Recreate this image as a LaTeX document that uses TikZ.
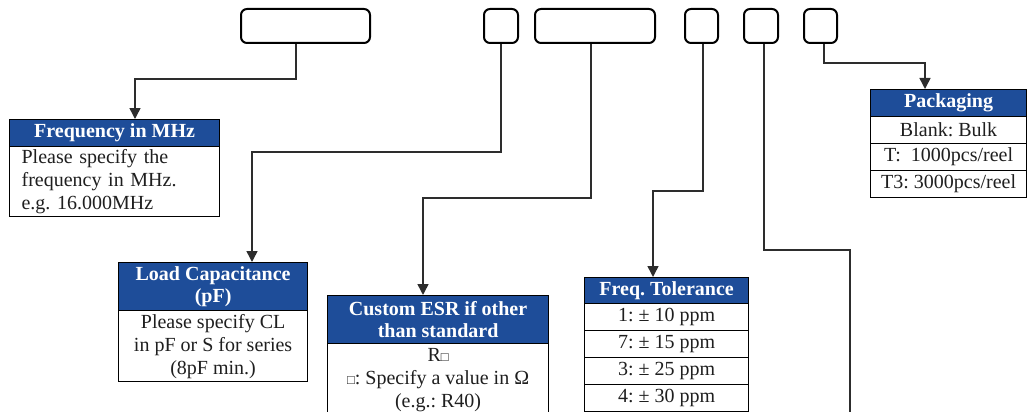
\documentclass[tikz,border=0pt]{standalone}
\usepackage{fontspec}
\setmainfont{Liberation Serif}
\usetikzlibrary{arrows.meta}
\definecolor{hblue}{RGB}{30,77,153}
\definecolor{lineg}{RGB}{45,45,45}
\newcommand{\smsq}{{\fontsize{13}{23}\selectfont □}}
\frenchspacing
\begin{document}
\begin{tikzpicture}[x=1pt,y=-1pt, font=\fontsize{20}{23}\selectfont,
  topbox/.style={draw=black, line width=2pt, rounded corners=6pt, minimum height=34pt, anchor=north west, inner sep=0pt},
  hdr/.style={draw=black, line width=1.2pt, fill=hblue, text=white, font=\fontsize{20}{22}\selectfont\bfseries, anchor=north west, inner sep=0pt, align=center},
  cell/.style={draw=black, line width=1.2pt, fill=white, text=black!88, anchor=north west, inner sep=0pt, align=center},
  conn/.style={draw=lineg, line width=1.5pt},
  arr/.style={-{Triangle[length=11pt,width=11pt]}}
]
\useasboundingbox (0,0) rectangle (1028,412);
\clip (0,0) rectangle (1028,412);

% top code boxes
\node[topbox, minimum width=129] (t1) at (240,8) {};
\node[topbox, minimum width=34] (t2) at (483,8) {};
\node[topbox, minimum width=120] (t3) at (534,8) {};
\node[topbox, minimum width=33] (t4) at (684,8) {};
\node[topbox, minimum width=34] (t5) at (743,8) {};
\node[topbox, minimum width=33] (t6) at (803,8) {};

% Frequency
\node[hdr, minimum width=210, minimum height=27] (fh) at (9,119) {Frequency in MHz};
\node[cell, minimum width=210, minimum height=70, text width=186, align=left] (fb) at (9,146) {Please specify the\\frequency in MHz.\\e.g. 16.000MHz};

% Load capacitance
\node[hdr, minimum width=189, minimum height=48] (lh) at (118,262) {Load Capacitance\\(pF)};
\node[cell, minimum width=189, minimum height=71] (lb) at (118,310) {Please specify CL\\in pF or S for series\\(8pF min.)};

% Custom ESR
\node[hdr, minimum width=221, minimum height=48] (eh) at (327,295) {Custom ESR if other\\than standard};
\node[cell, minimum width=221, minimum height=74] (eb) at (327,343) {R\smsq\\\smsq: Specify a value in Ω\\(e.g.: R40)};

% Freq tolerance
\node[hdr, minimum width=164, minimum height=26] (th) at (584,277) {Freq. Tolerance};
\node[cell, minimum width=164, minimum height=27] (tr1) at (584,303) {1: ± 10 ppm};
\node[cell, minimum width=164, minimum height=27] (tr2) at (584,330) {7: ± 15 ppm};
\node[cell, minimum width=164, minimum height=27] (tr3) at (584,357) {3: ± 25 ppm};
\node[cell, minimum width=164, minimum height=27] (tr4) at (584,384) {4: ± 30 ppm};

% Packaging
\node[hdr, minimum width=156, minimum height=27] (ph) at (870,89) {Packaging};
\node[cell, minimum width=156, minimum height=27] (pr1) at (870,116) {Blank: Bulk};
\node[cell, minimum width=156, minimum height=27] (pr2) at (870,143) {T:\ \ 1000pcs/reel};
\node[cell, minimum width=156, minimum height=27] (pr3) at (870,170) {T3: 3000pcs/reel};

% connectors
\coordinate (k1) at (135,79);
\coordinate (k2) at (252,152);
\coordinate (k3) at (423,198);
\coordinate (k4) at (653,191);
\coordinate (k5) at (850,250);
\coordinate (e5) at (850,425);
\coordinate (k6) at (925,63);
\draw[conn,arr] ([xshift=-9.5pt]t1.south) |- (k1) -- (k1 |- fh.north);
\draw[conn,arr] (t2.south) |- (k2) -- (k2 |- lh.north);
\draw[conn,arr] ([xshift=-4pt]t3.south) |- (k3) -- (k3 |- eh.north);
\draw[conn,arr] ([xshift=1.5pt]t4.south) |- (k4) -- (k4 |- th.north);
\draw[conn] ([xshift=3pt]t5.south) |- (k5) -- (e5);
\draw[conn,arr] ([xshift=3.5pt]t6.south) |- (k6) -- (k6 |- ph.north);
\end{tikzpicture}
\end{document}
